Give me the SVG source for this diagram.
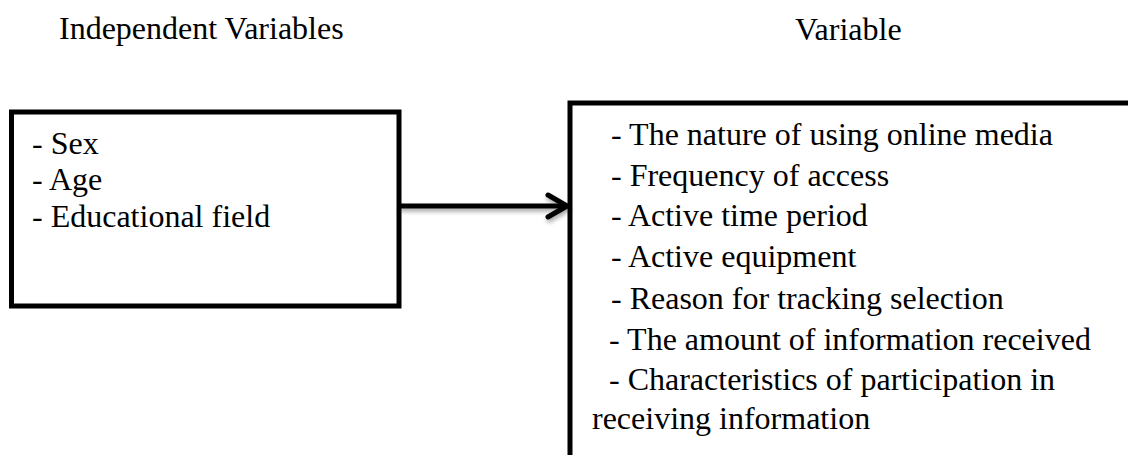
<svg xmlns="http://www.w3.org/2000/svg" width="1128" height="455" viewBox="0 0 1128 455">
  <defs>
    <style>
      .txt { font-family: "Liberation Serif", "Times New Roman", serif; font-size: 32px; fill: #000; }
      .box { fill: #fff; stroke: #000; stroke-width: 5; }
      .conn { fill: none; stroke: #000; stroke-width: 5; stroke-linecap: round; stroke-linejoin: round; }
    </style>
    <filter id="shadow" x="-10%" y="-50%" width="130%" height="250%">
      <feDropShadow dx="1" dy="3" stdDeviation="2" flood-color="#000" flood-opacity="0.35"/>
    </filter>
  </defs>
  <rect width="1128" height="455" fill="#fff"/>

  <g id="header-independent">
    <text class="txt" x="59" y="39">Independent Variables</text>
  </g>
  <g id="header-dependent">
    <text class="txt" x="795" y="40">Variable</text>
  </g>

  <g id="node-independent">
    <rect class="box" x="11.5" y="112" width="387.5" height="194"/>
    <text class="txt" x="32" y="154">- Sex</text>
    <text class="txt" x="32" y="190">- Age</text>
    <text class="txt" x="32" y="227">- Educational field</text>
  </g>

  <g id="node-dependent">
    <rect class="box" x="570" y="103" width="600" height="420"/>
    <text class="txt" x="611" y="145">- The nature of using online media</text>
    <text class="txt" x="611" y="186">- Frequency of access</text>
    <text class="txt" x="611" y="226">- Active time period</text>
    <text class="txt" x="611" y="267">- Active equipment</text>
    <text class="txt" x="611" y="309">- Reason for tracking selection</text>
    <text class="txt" x="609" y="350">- The amount of information received</text>
    <text class="txt" x="609" y="390">- Characteristics of participation in</text>
    <text class="txt" x="592" y="429">receiving information</text>
  </g>

  <g id="connectors">
    <g filter="url(#shadow)">
      <path class="conn" d="M401 206 H566"/>
      <path class="conn" d="M548 195 L567 206 L548 217"/>
    </g>
  </g>
</svg>
